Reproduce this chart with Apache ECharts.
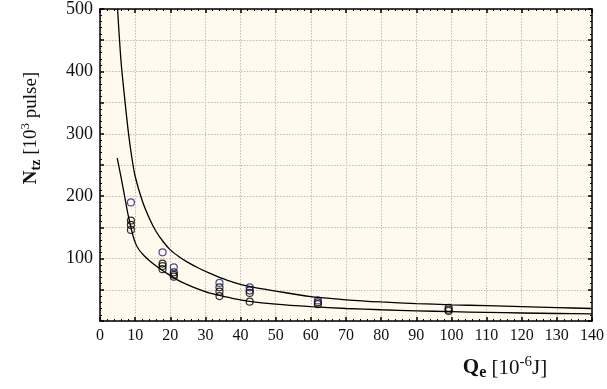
<!DOCTYPE html>
<html>
<head>
<meta charset="utf-8">
<script src="https://cdn.jsdelivr.net/npm/echarts@6/dist/echarts.min.js"></script>
<style>html,body{margin:0;padding:0;background:#fff}#c{width:607px;height:389px}</style>
</head>
<body>
<div id="c"></div>
<script>
// ---- data ----
const upperX = [5, 6, 7, 8, 9, 10, 12, 14, 16, 18, 20, 22.5, 25, 28, 31, 34, 38, 42, 50, 60, 70, 80, 90, 100, 110, 120, 130, 140];
const upperY = [500, 415, 358, 306, 264, 232, 193, 165, 143, 127, 114, 103, 94, 85, 77, 70, 62, 56, 48, 39, 34, 30.5, 28, 26, 24.5, 23, 21.5, 20];
const lowerX = [4.9, 6, 7, 8, 9, 10, 11, 12.5, 14, 16, 18, 20, 22, 25, 28, 31, 34, 38, 42, 50, 60, 70, 80, 90, 100, 110, 120, 130, 140];
const lowerY = [261, 230, 200, 170, 145, 126, 115, 105, 97, 88, 80, 73, 66, 58, 51, 45, 41, 36, 32, 27, 23, 20, 18, 16.3, 15, 13.8, 12.8, 12, 11.3];
const blueX = [8.8, 17.8, 21, 34, 42.6, 62];
const blueY = [190, 110, 86, 61, 54, 33];
const blackX = [8.8, 8.8, 8.8, 17.8, 17.8, 17.8, 21, 21, 21, 34, 34, 34, 42.6, 42.6, 42.6, 62, 62, 99.2, 99.2, 99.2];
const blackY = [161, 154, 146, 92, 88, 83, 78, 74, 71, 54, 47, 40, 49, 45, 31, 30, 27, 21, 18, 16];
const xMin = 0, xMax = 140, xStep = 10;
const yMin = 0, yMax = 500, yStep = 50;

const zip = (a, b) => a.map((v, i) => [v, b[i]]);
const serif = 'Liberation Serif, DejaVu Serif, serif';
const axisLine = { show: true, onZero: false, lineStyle: { color: '#000', width: 1.5 } };
const tick = { show: true, inside: true, length: 4, lineStyle: { color: '#000', width: 1.5 } };
const minor = { show: true, splitNumber: 5, length: 2, lineStyle: { color: '#000', width: 1 } };
const grid = { show: true, lineStyle: { type: [1.5, 1.5], color: '#bdbdbd', width: 1 } };

const chart = echarts.init(document.getElementById('c'), null, { renderer: 'canvas' });
chart.setOption({
  animation: false,
  backgroundColor: '#ffffff',
  grid: { left: 100, right: 15, top: 5, bottom: 68, show: true, backgroundColor: '#fffaed', borderWidth: 0 },
  xAxis: [
    { type: 'value', min: xMin, max: xMax, interval: xStep, position: 'bottom',
      axisLine, axisTick: tick, minorTick: minor, splitLine: grid,
      axisLabel: { color: '#111', fontFamily: serif, fontSize: 16, margin: 7 } },
    { type: 'value', min: xMin, max: xMax, interval: xStep, position: 'top',
      axisLine, axisTick: tick, minorTick: minor, splitLine: { show: false },
      axisLabel: { show: false } }
  ],
  yAxis: [
    { type: 'value', min: yMin, max: yMax, interval: yStep, position: 'left',
      axisLine, axisTick: tick, minorTick: minor, splitLine: grid,
      axisLabel: { color: '#111', fontFamily: serif, fontSize: 18, margin: 7,
        formatter: v => (v > 0 && v % 100 === 0) ? String(v) : '' } },
    { type: 'value', min: yMin, max: yMax, interval: yStep, position: 'right',
      axisLine, axisTick: tick, minorTick: minor, splitLine: { show: false },
      axisLabel: { show: false } }
  ],
  series: [
    { type: 'line', data: zip(upperX, upperY), showSymbol: false, smooth: 0.3,
      lineStyle: { color: '#000', width: 1.3 }, clip: true },
    { type: 'line', data: zip(lowerX, lowerY), showSymbol: false, smooth: 0.3,
      lineStyle: { color: '#000', width: 1.3 }, clip: true },
    { type: 'scatter', data: zip(blackX, blackY), symbol: 'circle', symbolSize: 7,
      itemStyle: { color: 'rgba(0,0,0,0)', borderColor: '#000', borderWidth: 1.2 } },
    { type: 'scatter', data: zip(blueX, blueY), symbol: 'circle', symbolSize: 7,
      itemStyle: { color: 'rgba(0,0,0,0)', borderColor: '#1f1f80', borderWidth: 1.2 } }
  ],
  graphic: [
    { type: 'text', x: 31, y: 128, rotation: Math.PI / 2,
      style: {
        text: '{b|N}{bs|tz}{n| [10}{sup|3}{n| pulse]}',
        align: 'center', verticalAlign: 'middle', fill: '#111',
        rich: {
          b: { fontFamily: serif, fontSize: 19, fontWeight: 'bold', lineHeight: 24, verticalAlign: 'middle' },
          bs: { fontFamily: serif, fontSize: 14, fontWeight: 'bold', lineHeight: 14, verticalAlign: 'bottom' },
          n: { fontFamily: serif, fontSize: 19, lineHeight: 24, verticalAlign: 'middle' },
          sup: { fontFamily: serif, fontSize: 13, lineHeight: 14, verticalAlign: 'top' }
        }
      } },
    { type: 'text', x: 505, y: 368,
      style: {
        text: '{b|Q}{bs|e}{n| [10}{sup|-6}{n|J]}',
        align: 'center', verticalAlign: 'middle', fill: '#111',
        rich: {
          b: { fontFamily: serif, fontSize: 21, fontWeight: 'bold', lineHeight: 26, verticalAlign: 'middle' },
          bs: { fontFamily: serif, fontSize: 16, fontWeight: 'bold', lineHeight: 14, verticalAlign: 'bottom' },
          n: { fontFamily: serif, fontSize: 21, lineHeight: 26, verticalAlign: 'middle' },
          sup: { fontFamily: serif, fontSize: 15, lineHeight: 14, verticalAlign: 'top' }
        }
      } }
  ]
});
</script>
</body>
</html>
